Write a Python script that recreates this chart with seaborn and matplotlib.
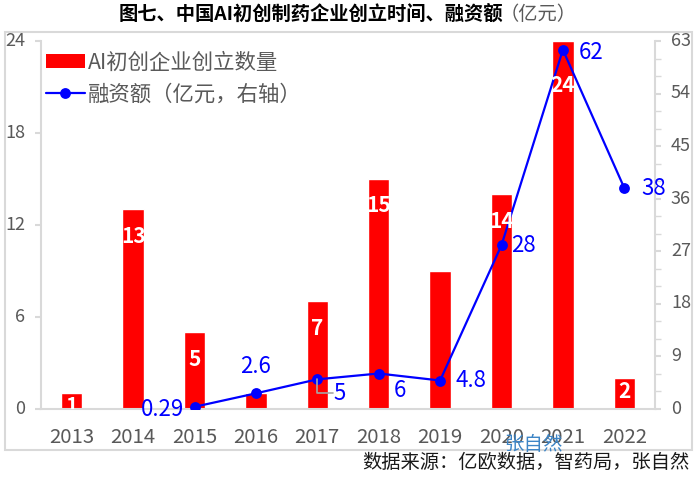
import matplotlib
matplotlib.use('Agg')
import matplotlib.pyplot as plt
from matplotlib.lines import Line2D
from matplotlib.patches import Patch, Rectangle
from matplotlib.ticker import MultipleLocator
import numpy as np
import pandas as pd
import seaborn as sns

years = ['2013', '2014', '2015', '2016', '2017', '2018', '2019', '2020', '2021', '2022']
companies = [1, 13, 5, 1, 7, 15, 9, 14, 24, 2]
funding = [np.nan, np.nan, 0.29, 2.6, 5, 6, 4.8, 28, 61.5, 37.8]

# 只有这些柱子带标签，和原图一致
bar_labels = ['1', '13', '5', '', '7', '15', '', '14', '24', '2']
funding_labels = ['', '', '0.29', '2.6', '5', '6', '4.8', '28', '62', '38']

df = pd.DataFrame({'year': years, 'companies': companies, 'funding': funding})

sns.set_theme(style='white')
plt.rcParams['font.family'] = ['Noto Sans CJK SC', 'DejaVu Sans']

GRAY = '#595959'
LINE = '#d9d9d9'

fig = plt.figure(figsize=(7, 4.8), dpi=100)
ax = fig.add_axes([41 / 700, 1 - 408.5 / 480, 614 / 700, 367.5 / 480])

# 外框
fig.add_artist(Rectangle((5 / 700, 1 - 450 / 480), 687 / 700, 418 / 480, transform=fig.transFigure,
                         fill=False, edgecolor=LINE, linewidth=1.5))

sns.barplot(data=df, x='year', y='companies', color='#ff0000', saturation=1, width=0.35, ax=ax)
ax.set_xlim(-0.5, 9.5)
ax.set_ylim(0, 24)
ax.set_yticks([0, 6, 12, 18, 24])
ax.set_xlabel('')
ax.set_ylabel('')
ax.tick_params(axis='y', length=4.5, width=1.5, color=LINE, labelcolor=GRAY, labelsize=13, pad=7, left=True)
ax.tick_params(axis='x', length=0, labelcolor=GRAY, labelsize=14.7, pad=13)
for label in ax.get_yticklabels():
    label.set_verticalalignment('center')

for name in ['top', 'right']:
    ax.spines[name].set_visible(False)
for name in ['left', 'bottom']:
    ax.spines[name].set_color(LINE)
    ax.spines[name].set_linewidth(1.5)

# 右轴：融资额
ax2 = ax.twinx()
sns.lineplot(data=df, x='year', y='funding', color='#0000ff', linewidth=1.6, marker='o', markersize=7.8,
             markeredgewidth=0, sort=False, ax=ax2)
ax2.set_ylim(0, 63)
ax2.set_yticks([0, 9, 18, 27, 36, 45, 54, 63])
ax2.yaxis.set_minor_locator(MultipleLocator(3))
ax2.set_ylabel('')
ax2.tick_params(axis='y', which='major', length=4.5, width=1.5, color=LINE, labelcolor=GRAY, labelsize=13, pad=7, right=True)
ax2.tick_params(axis='y', which='minor', length=4.5, width=1, color=LINE, right=True)
for label in ax2.get_yticklabels():
    label.set_verticalalignment('center')
for name in ['top', 'left', 'bottom']:
    ax2.spines[name].set_visible(False)
ax2.spines['right'].set_color(LINE)
ax2.spines['right'].set_linewidth(1.5)

# 柱子数字
bar_offsets = [-9.5, -19.5, -20, 0, -19.5, -19, 0, -19.5, -32, -10]
for i, text in enumerate(bar_labels):
    if text:
        ax2.annotate(text, xy=(i, companies[i] * 63 / 24), xytext=(0, bar_offsets[i]), textcoords='offset points',
                     ha='center', va='center', color='white', fontsize=15, fontweight='bold', zorder=5,
                     annotation_clip=True, clip_on=True)

# 折线数字
label_offsets = [None, None, (-23, -2), (0, 19), (16, -10), (15, -12), (22, 0), (16, 0), (20, -2), (21, 0)]
for i, text in enumerate(funding_labels):
    if text:
        ax2.annotate(text, xy=(i, funding[i]), xytext=label_offsets[i], textcoords='offset points',
                     ha='center', va='center', color='#0000ff', fontsize=16, zorder=6)

# 2017 的引导线
ax2.annotate('', xy=(4, funding[4]), xytext=(11, -10), textcoords='offset points', zorder=4,
             arrowprops=dict(arrowstyle='-', color='#a6a6a6', linewidth=1.2, shrinkA=0, shrinkB=0,
                             connectionstyle='angle,angleA=0,angleB=90,rad=0'))

handles = [Patch(facecolor='#ff0000', edgecolor='none'),
           Line2D([0], [0], color='#0000ff', linewidth=1.6, marker='o', markersize=7.8, markeredgewidth=0)]
ax2.legend(handles, ['AI初创企业创立数量', '融资额（亿元，右轴）'], loc='upper left', bbox_to_anchor=(0.0, 0.985),
           frameon=False, fontsize=15.4, labelcolor=GRAY, handlelength=1.82, handleheight=0.65, handletextpad=0.15,
           labelspacing=0.47, borderpad=0.1, borderaxespad=0.13)

# 标题、来源、水印
fig.text(119 / 700, 1 - 14 / 480, '图七、中国AI初创制药企业创立时间、融资额', fontsize=13.9, fontweight='bold', color='black',
         ha='left', va='center')
fig.text(500 / 700, 1 - 14 / 480, '（亿元）', fontsize=13.9, color=GRAY, ha='left', va='center')
fig.text(689 / 700, 1 - 463 / 480, '数据来源：亿欧数据，智药局，张自然', fontsize=13.85, color='#1a1a1a', ha='right', va='center')
fig.text(534 / 700, 1 - 444 / 480, '张自然', fontsize=14, color='#3d85c6', ha='center', va='center')

fig.savefig('out.png', dpi=100)
